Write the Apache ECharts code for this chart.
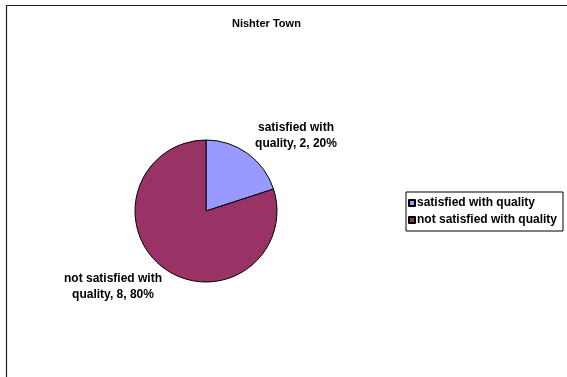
<!DOCTYPE html>
<html>
<head>
<meta charset="utf-8">
<script src="https://cdn.jsdelivr.net/npm/echarts@6/dist/echarts.min.js"></script>
<style>
  html, body { margin: 0; padding: 0; background: #fff; }
  #chart { width: 567px; height: 377px; }
</style>
</head>
<body>
<div id="chart"></div>
<script>
// Survey result for Nishter Town
const chartTitle = 'Nishter Town';
const categories = ['satisfied with quality', 'not satisfied with quality'];
const counts = [2, 8];
const sliceColors = ['#9999FF', '#993366'];

// Where each slice label sits (px), by slice index
const labelSpots = [[296, 136], [113, 287]];

const FONT = '"Liberation Sans", Arial, sans-serif';

// Break the name before its last word: "satisfied with\nquality, 2, 20%"
function sliceLabel(p) {
  const words = p.name.split(' ');
  const last = words.pop();
  return words.join(' ') + '\n' + last + ', ' + p.value + ', ' + Math.round(p.percent) + '%';
}

const chart = echarts.init(document.getElementById('chart'), null, { renderer: 'canvas' });

chart.setOption({
  animation: false,
  color: sliceColors,
  title: {
    text: chartTitle,
    left: 232,
    top: 18,
    padding: 0,
    textStyle: { fontFamily: FONT, fontSize: 11, fontWeight: 'bold', color: '#000' }
  },
  graphic: [{
    type: 'rect',
    shape: { x: 6.5, y: 5.5, width: 620, height: 420 },
    style: { fill: 'none', stroke: '#222', lineWidth: 1.2 },
    silent: true,
    z: -1
  }],
  legend: {
    orient: 'vertical',
    left: 406,
    top: 192,
    padding: [5, 6, 5, 2],
    borderColor: '#000',
    borderWidth: 1,
    itemWidth: 6,
    itemHeight: 6,
    itemGap: 5,
    icon: 'rect',
    data: categories,
    textStyle: { fontFamily: FONT, fontSize: 12, fontWeight: 'bold', color: '#000', padding: [0, 0, 0, -3] }
  },
  series: [{
    type: 'pie',
    center: [206, 211],
    radius: 71,
    startAngle: 90,
    clockwise: true,
    data: categories.map((name, i) => ({ name: name, value: counts[i] })),
    itemStyle: { borderColor: '#000', borderWidth: 1 },
    label: {
      show: true,
      position: 'outside',
      formatter: sliceLabel,
      fontFamily: FONT,
      fontSize: 12,
      fontWeight: 'bold',
      color: '#000',
      lineHeight: 16,
      align: 'center'
    },
    labelLine: { show: false },
    labelLayout: function (params) {
      const spot = labelSpots[params.dataIndex];
      return { x: spot[0], y: spot[1], align: 'center', verticalAlign: 'middle' };
    },
    emphasis: { disabled: true }
  }]
});
</script>
</body>
</html>
